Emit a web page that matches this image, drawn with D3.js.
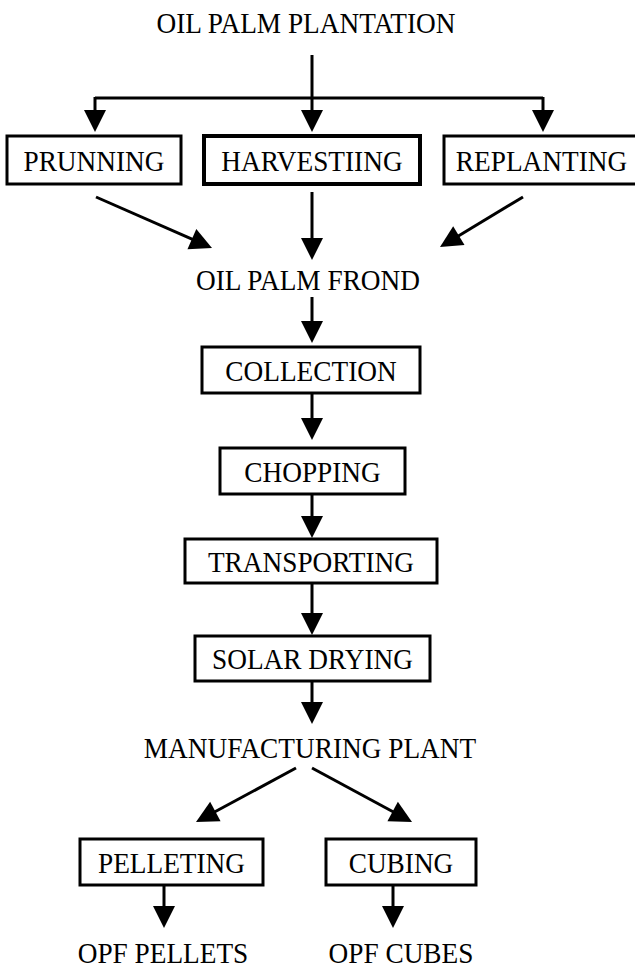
<!DOCTYPE html>
<html>
<head>
<meta charset="utf-8">
<script src="https://cdn.jsdelivr.net/npm/d3@7"></script>
<style>
  html, body { margin: 0; padding: 0; background: #fff; }
  svg { display: block; }
  text { font-family: "Liberation Serif", "Times New Roman", serif; fill: #000; }
</style>
</head>
<body>
<div id="chart"></div>
<script>
"use strict";
// flow labels
var rootLabel = "OIL PALM PLANTATION";
var sources = ["PRUNNING", "HARVESTIING", "REPLANTING"];
var frondLabel = "OIL PALM FROND";
var chain = ["COLLECTION", "CHOPPING", "TRANSPORTING", "SOLAR DRYING"];
var plantLabel = "MANUFACTURING PLANT";
var processes = ["PELLETING", "CUBING"];
var products = ["OPF PELLETS", "OPF CUBES"];

var width = 635, height = 969;

// layout (pixels) kept apart from the labels
var sourceBoxes = [[7, 181], [204, 420], [444, 639]];
var sourceY = [136, 184];
var chainBoxes = [[202, 420, 347, 393], [220, 405, 448, 494], [185, 437, 539, 583], [195, 430, 636, 681]];
var processBoxes = [[80, 263], [326, 476]];
var processY = [839, 885];

var svg = d3.select('#chart').append('svg')
    .attr('width', width)
    .attr('height', height);

var g = svg.append('g');
var lw = 3;
var head = 22;

function line(x1, y1, x2, y2) {
    g.append('line')
        .attr('x1', x1).attr('y1', y1)
        .attr('x2', x2).attr('y2', y2)
        .style('stroke', '#000')
        .style('stroke-width', lw);
}

// arrow whose tip is at (x2, y2)
function arrow(x1, y1, x2, y2) {
    var dx = x2 - x1, dy = y2 - y1;
    var len = Math.sqrt(dx * dx + dy * dy);
    var ux = dx / len, uy = dy / len;
    var bx = x2 - ux * head, by = y2 - uy * head;
    line(x1, y1, bx + ux * 2, by + uy * 2);
    var hw = head / 2;
    g.append('path')
        .attr('d', d3.line()([
            [x2, y2],
            [bx - uy * hw, by + ux * hw],
            [bx + uy * hw, by - ux * hw]
        ]) + 'Z')
        .style('fill', '#000');
}

// narrow, tall serif text like the source figure
function label(txt, x, baseline) {
    g.append('text')
        .attr('transform', 'translate(' + x + ',' + baseline + ') scale(0.91,1)')
        .attr('text-anchor', 'middle')
        .style('font-size', '30px')
        .text(txt);
}

function box(txt, x0, x1, y0, y1, sw) {
    g.append('rect')
        .attr('x', x0).attr('y', y0)
        .attr('width', x1 - x0).attr('height', y1 - y0)
        .style('fill', '#fff')
        .style('stroke', '#000')
        .style('stroke-width', sw || lw);
    label(txt, (x0 + x1) / 2, (y0 + y1) / 2 + 10.5);
}

var cx = 312;

// top
label(rootLabel, 306, 33);
line(cx, 55, cx, 98);
line(95, 98, 543, 98);
arrow(95, 97, 95, 132);
arrow(cx, 97, cx, 132);
arrow(543, 97, 543, 132);

sources.forEach(function (s, i) {
    box(s, sourceBoxes[i][0], sourceBoxes[i][1], sourceY[0], sourceY[1], i === 1 ? 4 : lw);
});

// into frond
arrow(96, 197, 212, 248);
arrow(cx, 192, cx, 260);
arrow(523, 197, 440, 247);
label(frondLabel, 308, 290);
arrow(cx, 297, cx, 343);

chain.forEach(function (s, i) {
    var b = chainBoxes[i];
    box(s, b[0], b[1], b[2], b[3]);
    if (i < chain.length - 1) {
        arrow(cx, b[3], cx, chainBoxes[i + 1][2] - (i === 0 ? 8 : 1));
    }
});
arrow(cx, 681, cx, 724);
label(plantLabel, 310, 758);

// branches
arrow(296, 768, 196, 822);
arrow(312, 768, 412, 822);

processes.forEach(function (s, i) {
    var b = processBoxes[i];
    box(s, b[0], b[1], processY[0], processY[1]);
    var mx = i === 0 ? 164 : 393;
    arrow(mx, processY[1], mx, 928);
});

label(products[0], 163, 963);
label(products[1], 401, 963);
</script>
</body>
</html>
